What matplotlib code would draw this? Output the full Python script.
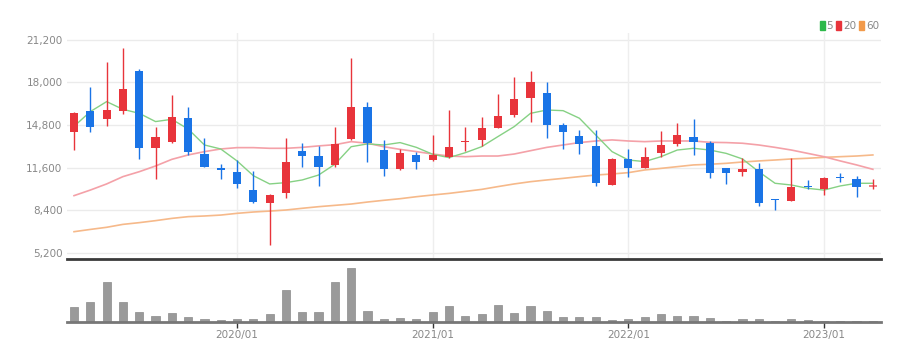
import numpy as np
import pandas as pd
import matplotlib
matplotlib.use('Agg')
import matplotlib.pyplot as plt
from matplotlib.patches import Patch
from matplotlib.ticker import FuncFormatter

plt.rcParams['font.family'] = ['Liberation Sans Narrow', 'DejaVu Sans Condensed', 'DejaVu Sans']

# monthly candles, 2019/03 .. 2023/04
months = pd.period_range('2019-03', '2023-04', freq='M').strftime('%Y/%m').tolist()

opens = [14250, 15860, 15230, 15860, 18890, 13050, 13500, 15310, 12600, 11570,
         11290, 9910, 8940, 9660, 12870, 12470, 11820, 13730, 16130, 12920,
         11470, 12550, 12170, 12370, 13500, 13680, 14600, 15560, 16810, 17240,
         14800, 13980, 13230, 10290, 12220, 11590, 12670, 13380, 13930, 13430,
         11540, 11290, 11470, 9240, 9110, 10240, 9990, 10920, 10720, 10120]
closes = [15680, 14680, 15930, 17540, 13070, 13930, 15430, 12750, 11670, 11390,
          10340, 8990, 9510, 12050, 12500, 11650, 13380, 16180, 13480, 11490,
          12670, 12050, 12550, 13120, 13600, 14550, 15480, 16740, 18020, 14800,
          14250, 13350, 10420, 12220, 11590, 12420, 13300, 14050, 13550, 11170,
          11170, 11470, 8910, 9160, 10120, 10120, 10840, 10790, 10170, 10290]
highs = [15750, 17640, 19520, 20570, 19000, 14680, 17060, 16180, 13800, 11850,
         12170, 11340, 9590, 13850, 13480, 13230, 14680, 19820, 16560, 13680,
         12970, 12800, 14050, 15930, 14680, 15430, 17140, 18390, 18870, 18020,
         14930, 14430, 14430, 12300, 12970, 13120, 14350, 14930, 15230, 13630,
         11590, 12300, 11970, 9240, 12300, 10670, 10920, 11170, 10990, 10740]
lows = [12920, 14300, 14750, 15610, 12250, 10720, 13450, 12550, 11620, 10740,
        10090, 8950, 5780, 9310, 11650, 10220, 11670, 13700, 12050, 10970,
        11390, 11470, 12100, 12300, 12850, 13230, 14580, 15380, 15010, 13800,
        12970, 12620, 10240, 10270, 10920, 11540, 12370, 13250, 12520, 10790,
        10370, 10970, 8710, 8410, 9090, 9960, 9540, 10490, 9410, 9960]
volumes = [15, 20, 40, 20, 9.3, 6, 8.7, 4.3, 2.7, 2,
           2.7, 2.7, 7.7, 32, 9.3, 9.3, 40, 53.7, 10.3, 2.7,
           4, 2.3, 9.3, 15.7, 6, 7.3, 17, 8.7, 15.3, 11,
           4.3, 4.3, 4.3, 1.3, 2.3, 4.3, 8, 6, 6, 4,
           1, 2.7, 2.7, 1, 2.7, 1.3, 1, 1, 1, 1]

ma5 = [14700, 15810, 16560, 15980, 15680, 15060, 15230, 14500, 13300, 13000,
       12100, 10990, 10370, 10470, 10670, 11040, 11850, 13170, 13380, 13300,
       13480, 13120, 12600, 12350, 12720, 13170, 13930, 14680, 15680, 15930,
       15880, 15310, 14050, 12800, 12170, 12050, 12420, 12920, 13050, 12920,
       12670, 12250, 11290, 10420, 10290, 10040, 9910, 10220, 10420, 10420]
ma20 = [9490, 9910, 10370, 10920, 11290, 11720, 12220, 12550, 12800, 13000,
        13100, 13100, 13050, 13050, 13120, 13230, 13320, 13550, 13430, 13170,
        12970, 12800, 12620, 12470, 12420, 12470, 12470, 12620, 12870, 13120,
        13300, 13480, 13600, 13680, 13600, 13550, 13600, 13600, 13600, 13500,
        13480, 13430, 13300, 13120, 12920, 12670, 12420, 12100, 11800, 11470]
ma60 = [6780, 6950, 7110, 7330, 7460, 7610, 7780, 7910, 7960, 8030,
        8160, 8260, 8330, 8410, 8540, 8660, 8760, 8860, 9010, 9140,
        9260, 9410, 9540, 9660, 9810, 9960, 10170, 10370, 10540, 10670,
        10790, 10920, 11040, 11120, 11220, 11420, 11540, 11670, 11800, 11850,
        11920, 12020, 12100, 12170, 12250, 12300, 12370, 12420, 12470, 12550]

price_ticks = [5200, 8400, 11600, 14800, 18000, 21200]
year_labels = ['2020/01', '2021/01', '2022/01', '2023/01']

UP = '#e8343b'
DOWN = '#1a74e6'

x = np.arange(len(months))
opens = np.array(opens)
closes = np.array(closes)
colors = [UP if c >= o else DOWN for o, c in zip(opens, closes)]
year_pos = [months.index(l) for l in year_labels]

fig = plt.figure(figsize=(9.21, 3.61), dpi=100)
ax = fig.add_axes([0.0724, 0.2812, 0.8842, 0.6274])
axv = fig.add_axes([0.0724, 0.1094, 0.8842, 0.1648], sharex=ax)

# grid
for p in price_ticks:
    ax.axhline(p, color='#ebebeb', lw=1, zorder=0)
for p in year_pos:
    ax.axvline(p, color='#eeeeee', lw=1, zorder=0)

# moving averages
ax.plot(x, ma60, color='#f6b98a', lw=1.2, zorder=1)
ax.plot(x, ma20, color='#f4a1a8', lw=1.2, zorder=1)
ax.plot(x, ma5, color='#86d184', lw=1.0, zorder=1)

# candles
body = closes - opens
body = np.where(np.abs(body) < 40, np.sign(body + 0.1) * 40, body)
ax.vlines(x, lows, highs, colors=colors, lw=1, zorder=2)
bars = ax.bar(x, body, bottom=opens, width=0.5, color=colors, zorder=3)
bars[-1].set_alpha(0.6)

ax.set_ylim(4690, 21720)
ax.set_xlim(-0.45, 49.5)
ax.set_yticks(price_ticks)
ax.yaxis.set_major_formatter(FuncFormatter(lambda v, p: f'{int(v):,}'))
ax.tick_params(axis='y', length=0, labelsize=7.5, colors='#888888', pad=3)
ax.tick_params(axis='x', length=0, labelbottom=False)
for s in ['top', 'right', 'left']:
    ax.spines[s].set_visible(False)
ax.spines['bottom'].set_color('#3a3a3a')
ax.spines['bottom'].set_linewidth(2)

handles = [Patch(color='#2db84a', label='5'), Patch(color='#e8343b', label='20'),
           Patch(color='#f29a4a', label='60')]
leg = ax.legend(handles=handles, ncol=3, loc='lower right', bbox_to_anchor=(1.0, 1.0),
                frameon=False, fontsize=7.5, handlelength=0.5, handleheight=0.9,
                handletextpad=0.15, columnspacing=0.3, borderpad=0, borderaxespad=0.2)
for t in leg.get_texts():
    t.set_color('#888888')

# volume
axv.bar(x, volumes, width=0.5, color='#9a9a9a', edgecolor='#8a8a8a', lw=0.5)
axv.set_ylim(0, max(volumes) * 59.5 / 53.7)
axv.set_yticks([])
axv.set_xticks(year_pos)
axv.set_xticklabels(year_labels)
axv.tick_params(axis='x', length=4, width=1, color='#333333', labelsize=7.5,
                labelcolor='#888888', pad=2)
for s in ['top', 'right', 'left']:
    axv.spines[s].set_visible(False)
axv.spines['bottom'].set_color('#777777')
axv.spines['bottom'].set_linewidth(2)

fig.savefig('out.png', dpi=100)
